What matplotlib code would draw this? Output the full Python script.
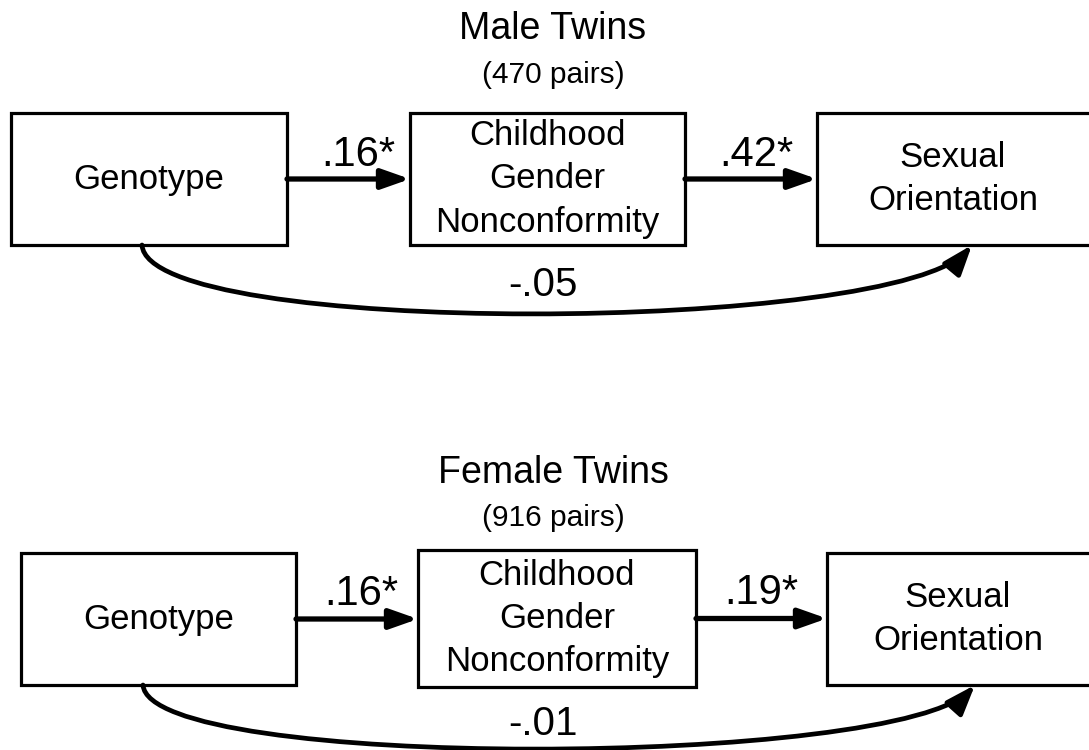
import matplotlib.pyplot as plt
from matplotlib.patches import Rectangle, FancyArrowPatch
from matplotlib.path import Path

# path diagram values
panel_titles = ['Male Twins', 'Female Twins']
pair_counts = [470, 916]
node_labels = ['Genotype', 'Childhood\nGender\nNonconformity', 'Sexual\nOrientation']
coef_gene_cgn = ['.16*', '.16*']
coef_cgn_so = ['.42*', '.19*']
coef_gene_so = ['-.05', '-.01']

# layout (pixel coordinates, y downwards)
title_y = [29, 473]
sub_y = [75, 518]
boxes = [
    [(11, 113, 287, 245), (410, 113, 685, 245), (817, 113, 1092, 245)],
    [(21, 553, 296, 685), (418, 550, 696, 687), (827, 553, 1092, 685)],
]
coef_x = [(358, 756), (361, 761)]
coef_dy = [13, 14]
curve_ends = [((142, 245), (972, 245)), ((143, 685), (975, 685))]
curve_depth = [1.0, 0.93]
curve_label_y = [285, 724]

plt.rcParams['font.family'] = ['Liberation Sans', 'DejaVu Sans']

fig = plt.figure(figsize=(10.89, 7.5), dpi=100)
ax = fig.add_axes([0, 0, 1, 1])
ax.set_xlim(0, 1089)
ax.set_ylim(750, 0)
ax.axis('off')

for p in range(2):
    ax.text(553, title_y[p], panel_titles[p], fontsize=27, ha='center', va='center')
    ax.text(553, sub_y[p], '(%d pairs)' % pair_counts[p], fontsize=21.5, ha='center', va='center')

    for (x0, y0, x1, y1), lab in zip(boxes[p], node_labels):
        ax.add_patch(Rectangle((x0, y0), x1 - x0, y1 - y0, facecolor='white',
                               edgecolor='black', lw=2.3, zorder=2))
        cx = (x0 + min(x1, 1085)) / 2 + (2 if x1 > 1089 else 0)
        ax.text(cx, (y0 + y1) / 2, lab, fontsize=25, ha='center', va='center',
                linespacing=1.4, zorder=3)

    # straight paths
    coefs = [coef_gene_cgn[p], coef_cgn_so[p]]
    for i in range(2):
        a = boxes[p][i]
        b = boxes[p][i + 1]
        y = (a[1] + a[3]) / 2
        ax.add_artist(FancyArrowPatch((a[2], y), (b[0], y),
                                      arrowstyle='-|>,head_length=0.85,head_width=0.3',
                                      mutation_scale=20, lw=3.8, color='black',
                                      shrinkA=0, shrinkB=0, zorder=4))
        ax.text(coef_x[p][i], y - coef_dy[p], coefs[i], fontsize=30,
                ha='center', va='baseline')

    # curved path Genotype -> Sexual Orientation
    (sx, sy), (ex, ey) = curve_ends[p]
    d = curve_depth[p]
    verts = [(sx, sy), (sx + 6, sy + 93 * d), (ex - 74, ey + 89 * d), (ex, ey)]
    path = Path(verts, [Path.MOVETO, Path.CURVE4, Path.CURVE4, Path.CURVE4])
    ax.add_artist(FancyArrowPatch(path=path,
                                  arrowstyle='-|>,head_length=0.9,head_width=0.33',
                                  mutation_scale=20, lw=3.4, color='black',
                                  shrinkA=0, shrinkB=0, zorder=4))
    ax.text(543, curve_label_y[p], coef_gene_so[p], fontsize=29,
            ha='center', va='center')

fig.savefig('out.png', dpi=100, facecolor='white')
